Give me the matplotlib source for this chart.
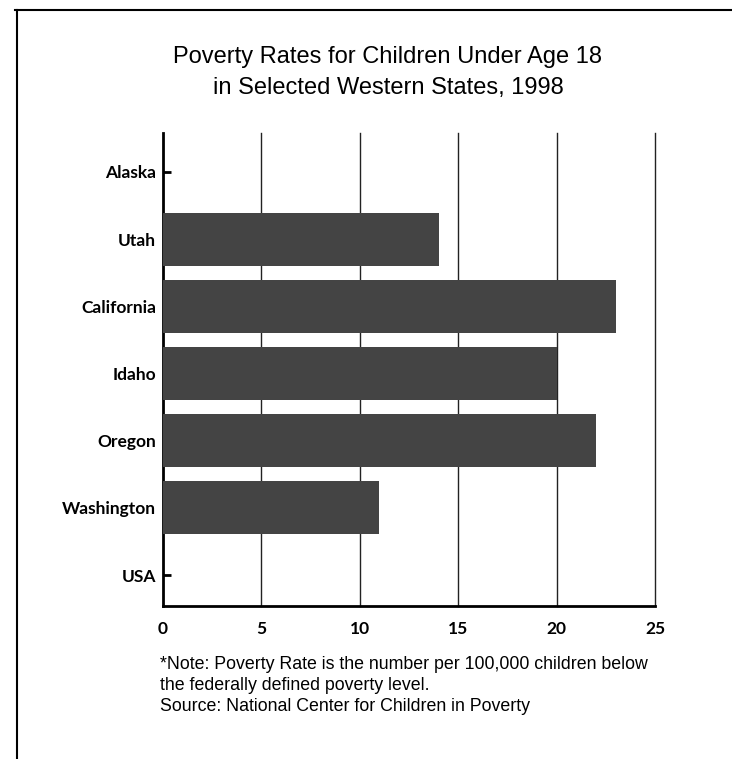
import matplotlib
matplotlib.use("Agg")
import matplotlib.pyplot as plt
from matplotlib.lines import Line2D

states = ["Alaska", "Utah", "California", "Idaho", "Oregon", "Washington", "USA"]
rates = [0, 14, 23, 20, 22, 11, 0]
xticks = [0, 5, 10, 15, 20, 25]

fig = plt.figure(figsize=(7.32, 7.59), dpi=100)
ax = fig.add_axes([0.2227, 0.2016, 0.6721, 0.6232])

pos = list(range(len(states)))
ax.barh(pos, rates, height=0.79, color="#444444", zorder=3)

ax.set_xlim(0, 25)
ax.set_ylim(6.46, -0.58)
ax.set_xticks(xticks)
ax.set_xticklabels([str(t) for t in xticks], fontfamily="Lato", fontweight="bold", fontsize=12.5)
ax.set_yticks(pos)
ax.set_yticklabels(states, fontfamily="Lato", fontweight="bold", fontsize=12.5)
ax.tick_params(axis="y", direction="in", length=6, width=2, pad=5, color="black")
ax.tick_params(axis="x", length=0, pad=11)

for v in xticks[1:]:
    ax.axvline(v, color="#222222", lw=1.0, zorder=1, clip_on=False)

for s in ["top", "right"]:
    ax.spines[s].set_visible(False)
for s in ["left", "bottom"]:
    ax.spines[s].set_linewidth(2)
    ax.spines[s].set_color("black")

fig.text(0.53, 0.925, "Poverty Rates for Children Under Age 18",
         ha="center", va="center", fontsize=17, fontfamily="Liberation Sans")
fig.text(0.53, 0.884, "in Selected Western States, 1998",
         ha="center", va="center", fontsize=17, fontfamily="Liberation Sans")

notes = ["*Note: Poverty Rate is the number per 100,000 children below",
         "the federally defined poverty level.",
         "Source: National Center for Children in Poverty"]
for i, line in enumerate(notes):
    fig.text(0.219, 0.125 - i * 0.0277, line, ha="left", va="center",
             fontsize=12.8, fontfamily="Liberation Sans")

# page border of the scan
fig.add_artist(Line2D([0.02, 1.0], [0.987, 0.987], color="black", lw=1.5, transform=fig.transFigure))
fig.add_artist(Line2D([0.023, 0.023], [0.0, 0.987], color="black", lw=1.5, transform=fig.transFigure))

fig.savefig("out.png", dpi=100, facecolor="white")
